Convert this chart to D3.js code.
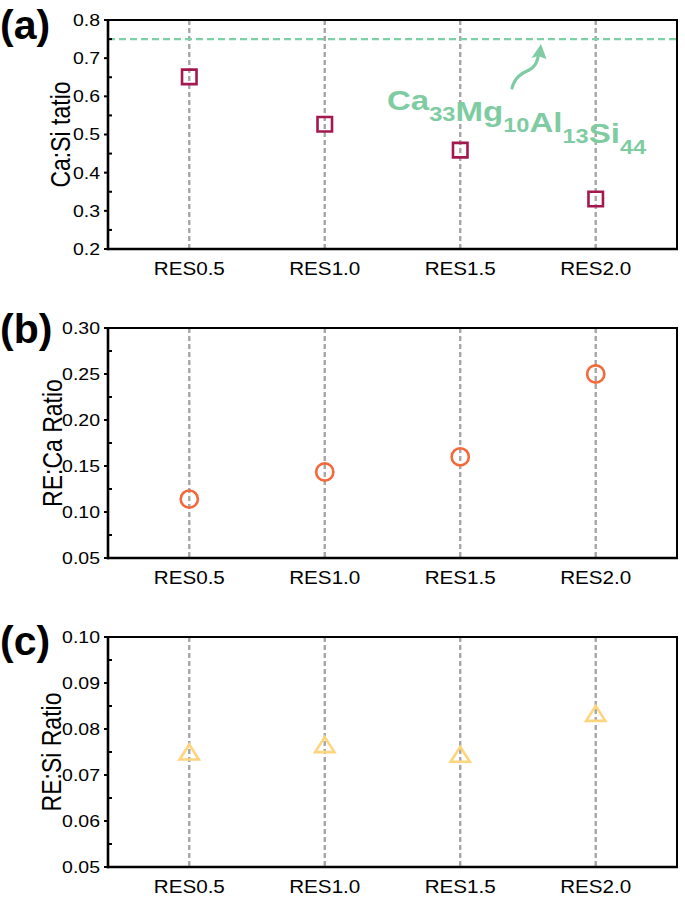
<!DOCTYPE html>
<html>
<head>
<meta charset="utf-8">
<script src="https://cdn.jsdelivr.net/npm/d3@7"></script>
<style>
  html, body { margin: 0; padding: 0; background: #fff; }
  svg { display: block; font-family: "Liberation Sans", Arial, sans-serif; }
</style>
</head>
<body>
<svg id="chart" width="685" height="899"></svg>
<script>
// ---------------- data ----------------
const categories = ["RES0.5", "RES1.0", "RES1.5", "RES2.0"];
const caSiRatio = [0.651, 0.527, 0.459, 0.331];
const reCaRatio = [0.114, 0.1435, 0.160, 0.250];
const reSiRatio = [0.0750, 0.0766, 0.0745, 0.0834];
const referenceCaSi = 0.75;
const annotationParts = [["Ca", "33"], ["Mg", "10"], ["Al", "13"], ["Si", "44"]];

const ticksA = [0.2, 0.3, 0.4, 0.5, 0.6, 0.7, 0.8];
const minorA = [0.25, 0.35, 0.45, 0.55, 0.65, 0.75];
const ticksB = [0.05, 0.10, 0.15, 0.20, 0.25, 0.30];
const minorB = [0.075, 0.125, 0.175, 0.225, 0.275];
const ticksC = [0.05, 0.06, 0.07, 0.08, 0.09, 0.10];
const minorC = [0.055, 0.065, 0.075, 0.085, 0.095];

// ---------------- layout ----------------
const SX = 1.18;            // horizontal text stretch seen in the reference
const left = 108, right = 677;
const svg = d3.select("#chart");

const x = d3.scalePoint().domain(categories).range([left, right]).padding(0.6);

const panels = [
  { label: "(a)", top: 20, bottom: 249, domain: [0.2, 0.8], ticks: ticksA, minor: minorA,
    fmt: d3.format(".1f"), title: "Ca:Si tatio", titleX: 70, values: caSiRatio,
    marker: "square", color: "#A5174F", labelY: 39 },
  { label: "(b)", top: 328, bottom: 558, domain: [0.05, 0.30], ticks: ticksB, minor: minorB,
    fmt: d3.format(".2f"), title: "RE:Ca Ratio", titleX: 62, values: reCaRatio,
    marker: "circle", color: "#F26A3B", labelY: 343 },
  { label: "(c)", top: 637, bottom: 867, domain: [0.05, 0.10], ticks: ticksC, minor: minorC,
    fmt: d3.format(".2f"), title: "RE:Si Ratio", titleX: 61, values: reSiRatio,
    marker: "triangle", color: "#FED47C", labelY: 655 }
];

// custom triangle centered on its bounding box
const triangleType = {
  draw(ctx, size) {
    const w = Math.sqrt(size) * 1.28, h = Math.sqrt(size) * 1.0;
    ctx.moveTo(0, -h / 2);
    ctx.lineTo(w / 2, h / 2);
    ctx.lineTo(-w / 2, h / 2);
    ctx.closePath();
  }
};

function stretchedText(parent, tx, ty, str, opts) {
  const g = parent.append("g").attr("transform", `translate(${tx},${ty}) scale(${opts.sx || SX},1)` + (opts.rotate ? ` rotate(${opts.rotate})` : ""));
  const t = g.append("text")
    .attr("x", 0).attr("y", 0)
    .attr("text-anchor", opts.anchor || "start")
    .attr("font-size", opts.size)
    .attr("font-weight", opts.weight || "normal")
    .attr("fill", opts.fill || "#000")
    .text(str);
  if (opts.dy) t.attr("dy", opts.dy);
  return t;
}

panels.forEach(p => {
  const y = d3.scaleLinear().domain(p.domain).range([p.bottom, p.top]);
  const g = svg.append("g");

  // vertical dashed category lines
  g.selectAll("line.cat").data(categories).join("line")
    .attr("x1", d => x(d)).attr("x2", d => x(d))
    .attr("y1", p.top).attr("y2", p.bottom)
    .attr("stroke", "#A6A6A6").attr("stroke-width", 2.4)
    .attr("stroke-dasharray", "5,3");

  // reference line in panel (a)
  if (p.label === "(a)") {
    g.append("line")
      .attr("x1", left).attr("x2", right)
      .attr("y1", y(referenceCaSi)).attr("y2", y(referenceCaSi))
      .attr("stroke", "#7DCFA4").attr("stroke-width", 2.2)
      .attr("stroke-dasharray", "7,4");
  }

  // frame
  g.append("rect")
    .attr("x", left).attr("y", p.top)
    .attr("width", right - left).attr("height", p.bottom - p.top)
    .attr("fill", "none").attr("stroke", "#000").attr("stroke-width", 2);
  g.append("line").attr("x1", left).attr("x2", left).attr("y1", p.top - 1).attr("y2", p.bottom + 1.2)
    .attr("stroke", "#000").attr("stroke-width", 2.6);
  g.append("line").attr("x1", left - 1.2).attr("x2", right + 1).attr("y1", p.bottom).attr("y2", p.bottom)
    .attr("stroke", "#000").attr("stroke-width", 2.6);

  // y ticks
  g.selectAll("line.major").data(p.ticks).join("line")
    .attr("x1", left - 4).attr("x2", left)
    .attr("y1", d => y(d)).attr("y2", d => y(d))
    .attr("stroke", "#000").attr("stroke-width", 2);
  g.selectAll("line.minor").data(p.minor).join("line")
    .attr("x1", left).attr("x2", left + 4)
    .attr("y1", d => y(d)).attr("y2", d => y(d))
    .attr("stroke", "#000").attr("stroke-width", 2);

  p.ticks.forEach(t => {
    stretchedText(g, 100, y(t), p.fmt(t), { size: 16.5, anchor: "end", dy: "0.36em" });
  });

  // x category labels
  categories.forEach(c => {
    stretchedText(g, x(c), p.bottom + 26, c, { size: 17.5, anchor: "middle" });
  });

  // y axis title
  stretchedText(g, p.titleX, (p.top + p.bottom) / 2, p.title, { size: 23, anchor: "middle", rotate: -90, sx: 1.2 });

  // panel label
  svg.append("text").attr("x", 0).attr("y", p.labelY)
    .attr("font-size", 41).attr("font-weight", "bold").attr("fill", "#000")
    .text(p.label);

  // markers
  const pts = categories.map((c, i) => ({ c, v: p.values[i] }));
  if (p.marker === "square") {
    g.selectAll("path.pt").data(pts).join("path")
      .attr("transform", d => `translate(${x(d.c)},${y(d.v)})`)
      .attr("d", d3.symbol(d3.symbolSquare, 14.5 * 14.5))
      .attr("fill", "none").attr("stroke", p.color).attr("stroke-width", 2.6);
  } else if (p.marker === "circle") {
    g.selectAll("path.pt").data(pts).join("path")
      .attr("transform", d => `translate(${x(d.c)},${y(d.v)})`)
      .attr("d", d3.symbol(d3.symbolCircle, Math.PI * 8.6 * 8.6))
      .attr("fill", "none").attr("stroke", p.color).attr("stroke-width", 2.6);
  } else {
    g.selectAll("path.pt").data(pts).join("path")
      .attr("transform", d => `translate(${x(d.c)},${y(d.v)})`)
      .attr("d", d3.symbol(triangleType, 15 * 15))
      .attr("fill", "none").attr("stroke", p.color).attr("stroke-width", 2.6)
      .attr("stroke-linejoin", "miter");
  }

  // annotation in (a)
  if (p.label === "(a)") {
    const ag = svg.append("g").attr("transform", `translate(387,110) scale(${SX},1)`);
    const txt = ag.append("text").attr("x", 0).attr("y", 0)
      .attr("font-weight", "bold").attr("fill", "#7FCCA2");
    annotationParts.forEach(([el, n]) => {
      txt.append("tspan").attr("font-size", 28).attr("dy", 0).text(el);
      txt.append("tspan").attr("font-size", 20).attr("dy", 11).text(n);
      txt.append("tspan").attr("font-size", 28).attr("dy", -11).text("");
    });
    // curved arrow
    svg.append("path")
      .attr("d", "M512,88 C515,77 522,73 529,70 C535,67 537,63 538,57")
      .attr("fill", "none").attr("stroke", "#7FCCA2").attr("stroke-width", 3.2)
      .attr("stroke-linecap", "round");
    svg.append("path")
      .attr("d", "M541,44 L546.5,59 L538,56 L531.5,58 Z")
      .attr("fill", "#7FCCA2");
  }
});
</script>
</body>
</html>
